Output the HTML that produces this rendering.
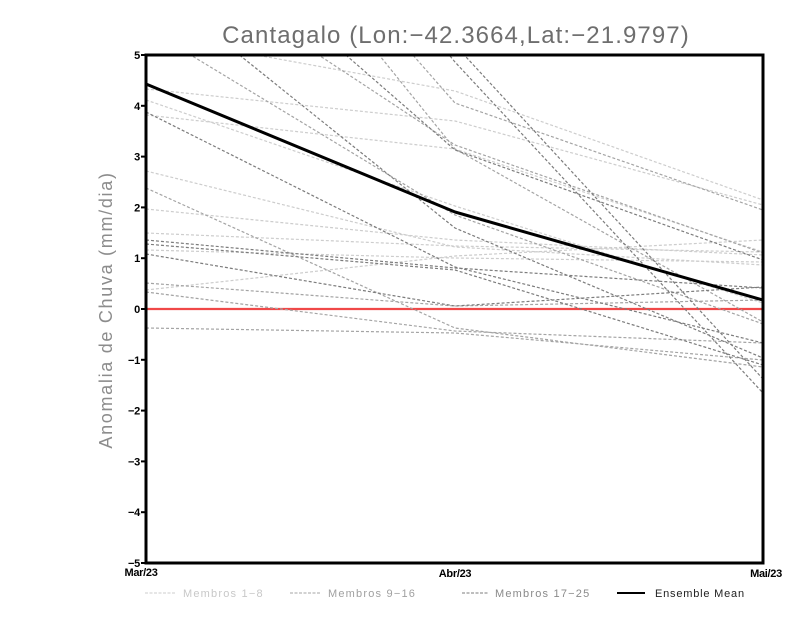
<!DOCTYPE html>
<html>
<head>
<meta charset="utf-8">
<style>
  html,body{margin:0;padding:0;background:#fff;}
  svg{display:block;}
  .tk{font-family:"Liberation Sans",sans-serif;font-weight:bold;font-size:11px;fill:#000;letter-spacing:-0.3px;}
  .L{stroke:#cdcdcd;}
  .G{stroke:#a4a4a4;}
  .D{stroke:#7c7c7c;}
  .m{fill:none;stroke-width:1.2;stroke-dasharray:3 2;}
</style>
</head>
<body>
<svg width="800" height="618" viewBox="0 0 800 618" xmlns="http://www.w3.org/2000/svg">
  <rect x="0" y="0" width="800" height="618" fill="#fff"/>
  <defs>
    <clipPath id="pa"><rect x="146" y="55" width="617" height="508"/></clipPath>
  </defs>

  <!-- Title -->
  <text x="456" y="43" text-anchor="middle" font-family="Liberation Sans, sans-serif" font-size="24" letter-spacing="1.1" fill="#6e6e6e">Cantagalo (Lon:−42.3664,Lat:−21.9797)</text>

  <!-- Y axis label -->
  <text transform="translate(112,310) rotate(-90)" text-anchor="middle" font-family="Liberation Sans, sans-serif" font-size="18" letter-spacing="1.7" fill="#8c8c8c">Anomalia de Chuva (mm/dia)</text>

  <g clip-path="url(#pa)">
    <!-- zero line -->
    <line x1="146" y1="309" x2="763" y2="309" stroke="#f04848" stroke-width="2.2"/>
    <!-- members -->
    <g class="m">
      <polyline class="L" points="146,35 455,91 763,200"/>
      <polyline class="L" points="146,89 455,121 763,205"/>
      <polyline class="L" points="146,115 455,149 763,252"/>
      <polyline class="L" points="146,100 455,206 763,303"/>
      <polyline class="L" points="146,171 455,247 763,265"/>
      <polyline class="L" points="146,209 455,240 763,255"/>
      <polyline class="L" points="146,233 455,246 763,252"/>
      <polyline class="L" points="146,250 455,258 763,262"/>
      <polyline class="L" points="146,290 455,256 763,240"/>

      <polyline class="G" points="146,28 455,215 763,324"/>
      <polyline class="G" points="146,-234 455,149 763,322"/>
      <polyline class="G" points="146,-249 455,103 763,210"/>
      <polyline class="G" points="146,188 455,328 763,367"/>
      <polyline class="G" points="146,283 455,306 763,300"/>
      <polyline class="G" points="146,292 455,331 763,343"/>
      <polyline class="G" points="146,328 455,333 763,360"/>
      <polyline class="G" points="146,-59 455,145 763,253"/>

      <polyline class="D" points="146,-119 455,150 763,260"/>
      <polyline class="D" points="146,-309 455,62 763,393"/>
      <polyline class="D" points="146,-280 455,45 763,379"/>
      <polyline class="D" points="146,-20 455,228 763,358"/>
      <polyline class="D" points="146,112 455,267 763,343"/>
      <polyline class="D" points="146,240 455,268 763,288"/>
      <polyline class="D" points="146,244 455,270 763,365"/>
      <polyline class="D" points="146,254 455,306 763,287"/>
    </g>
    <!-- ensemble mean -->
    <polyline points="146,84 455,212 763,300" fill="none" stroke="#000" stroke-width="3" stroke-linejoin="round"/>
  </g>

  <!-- frame -->
  <rect x="146" y="55" width="617" height="508" fill="none" stroke="#000" stroke-width="3"/>

  <!-- y ticks -->
  <g stroke="#000" stroke-width="2">
    <line x1="141" y1="55" x2="146" y2="55"/>
    <line x1="141" y1="105.8" x2="146" y2="105.8"/>
    <line x1="141" y1="156.6" x2="146" y2="156.6"/>
    <line x1="141" y1="207.4" x2="146" y2="207.4"/>
    <line x1="141" y1="258.2" x2="146" y2="258.2"/>
    <line x1="141" y1="309" x2="146" y2="309"/>
    <line x1="141" y1="359.8" x2="146" y2="359.8"/>
    <line x1="141" y1="410.6" x2="146" y2="410.6"/>
    <line x1="141" y1="461.4" x2="146" y2="461.4"/>
    <line x1="141" y1="512.2" x2="146" y2="512.2"/>
    <line x1="141" y1="563" x2="146" y2="563"/>
  </g>
  <g class="tk" text-anchor="end">
    <text x="140" y="59">5</text>
    <text x="140" y="109.8">4</text>
    <text x="140" y="160.6">3</text>
    <text x="140" y="211.4">2</text>
    <text x="140" y="262.2">1</text>
    <text x="140" y="313">0</text>
    <text x="140" y="363.8">−1</text>
    <text x="140" y="414.6">−2</text>
    <text x="140" y="465.4">−3</text>
    <text x="140" y="516.2">−4</text>
    <text x="140" y="567">−5</text>
  </g>
  <!-- x labels -->
  <g class="tk" text-anchor="middle">
    <text x="141" y="576">Mar/23</text>
    <text x="455" y="577">Abr/23</text>
    <text x="766" y="577">Mai/23</text>
  </g>

  <!-- legend -->
  <g font-family="Liberation Sans, sans-serif" font-size="11" letter-spacing="1.2">
    <line x1="145" y1="593" x2="176" y2="593" stroke="#cdcdcd" stroke-width="1" stroke-dasharray="3 1.5"/>
    <text x="183" y="597" fill="#c8c8c8">Membros 1−8</text>
    <line x1="290" y1="593" x2="321" y2="593" stroke="#a4a4a4" stroke-width="1" stroke-dasharray="3 1.5"/>
    <text x="328" y="597" fill="#a0a0a0">Membros 9−16</text>
    <line x1="462" y1="593" x2="488" y2="593" stroke="#7c7c7c" stroke-width="1" stroke-dasharray="3 1.5"/>
    <text x="495" y="597" fill="#8a8a8a">Membros 17−25</text>
    <line x1="617" y1="593" x2="645" y2="593" stroke="#000" stroke-width="2"/>
    <text x="655" y="597" fill="#222" letter-spacing="0.8">Ensemble Mean</text>
  </g>
</svg>
</body>
</html>
